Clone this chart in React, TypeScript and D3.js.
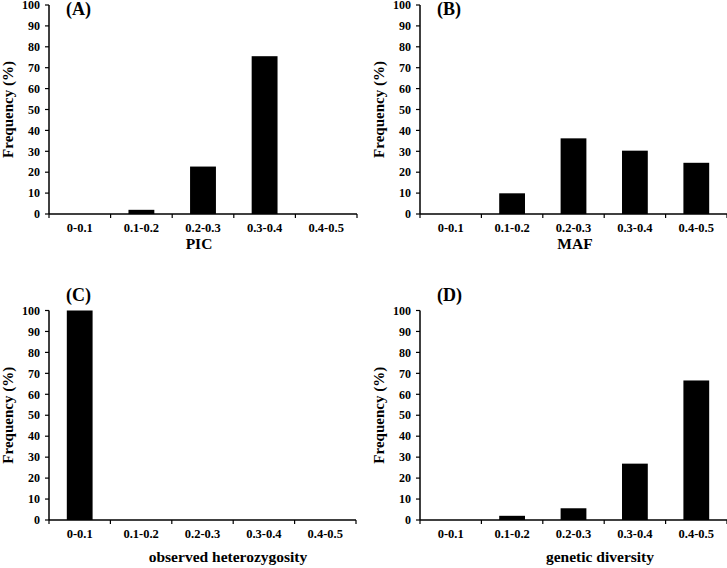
import * as d3 from "d3";
import React, { useEffect, useRef } from "react";

const bins = ["0-0.1", "0.1-0.2", "0.2-0.3", "0.3-0.4", "0.4-0.5"];
const picValues = [0, 2, 22.7, 75.5, 0];
const mafValues = [0, 9.9, 36.2, 30.3, 24.5];
const hoValues = [100, 0, 0, 0, 0];
const gdValues = [0, 2, 5.6, 26.9, 66.6];
const yTicks = [0, 10, 20, 30, 40, 50, 60, 70, 80, 90, 100];

const panels = [
  { tag: "(A)", title: "PIC", values: picValues, x0: 49, x1: 357, top: 5, bottom: 214, tagY: 15, titleX: 199, titleY: 249 },
  { tag: "(B)", title: "MAF", values: mafValues, x0: 420, x1: 727, top: 5, bottom: 214, tagY: 15, titleX: 575, titleY: 249 },
  { tag: "(C)", title: "observed heterozygosity", values: hoValues, x0: 49, x1: 356, top: 310.5, bottom: 520, tagY: 301, titleX: 228, titleY: 562 },
  { tag: "(D)", title: "genetic diversity", values: gdValues, x0: 420, x1: 727, top: 310.5, bottom: 520, tagY: 301, titleX: 600, titleY: 562 },
];

const font = "'Liberation Serif', 'Times New Roman', serif";

function draw(svgEl) {
  const svg = d3.select(svgEl);
  svg.selectAll("*").remove();

  panels.forEach((p) => {
    const x = d3.scaleBand().domain(bins).range([p.x0, p.x1]);
    const y = d3.scaleLinear().domain([0, 100]).range([p.bottom, p.top]);
    const g = svg.append("g").attr("font-family", font).attr("font-weight", "bold");

    // bars
    const bw = x.bandwidth() * 0.42;
    g.selectAll("rect")
      .data(p.values.map((v, i) => ({ v, c: bins[i] })).filter((d) => d.v > 0))
      .join("rect")
      .attr("x", (d) => x(d.c) + x.bandwidth() / 2 - bw / 2)
      .attr("y", (d) => y(d.v))
      .attr("width", bw)
      .attr("height", (d) => y(0) - y(d.v))
      .attr("fill", "#000");

    // y axis
    g.append("line")
      .attr("x1", p.x0).attr("x2", p.x0)
      .attr("y1", y(100)).attr("y2", y(0))
      .attr("stroke", "#000").attr("stroke-width", 1.5);
    yTicks.forEach((t) => {
      g.append("line")
        .attr("x1", p.x0 - 4).attr("x2", p.x0)
        .attr("y1", y(t)).attr("y2", y(t))
        .attr("stroke", "#000").attr("stroke-width", 1.2);
      g.append("text")
        .attr("x", p.x0 - 9).attr("y", y(t))
        .attr("dy", "0.35em")
        .attr("text-anchor", "end")
        .attr("font-size", 12)
        .text(t);
    });

    // x axis
    g.append("line")
      .attr("x1", p.x0).attr("x2", p.x1)
      .attr("y1", y(0)).attr("y2", y(0))
      .attr("stroke", "#000").attr("stroke-width", 1.5);
    const edges = bins.map((b) => x(b)).concat([p.x1]);
    edges.forEach((e) => {
      g.append("line")
        .attr("x1", e).attr("x2", e)
        .attr("y1", y(0)).attr("y2", y(0) + 4)
        .attr("stroke", "#000").attr("stroke-width", 1.2);
    });
    bins.forEach((b) => {
      g.append("text")
        .attr("x", x(b) + x.bandwidth() / 2)
        .attr("y", y(0) + 18)
        .attr("text-anchor", "middle")
        .attr("font-size", 12.5)
        .text(b);
    });

    // labels
    g.append("text")
      .attr("transform", `translate(${p.x0 - 36},${(y(0) + y(100)) / 2}) rotate(-90)`)
      .attr("text-anchor", "middle")
      .attr("font-size", 15)
      .text("Frequency (%)");
    g.append("text")
      .attr("x", p.titleX).attr("y", p.titleY)
      .attr("text-anchor", "middle")
      .attr("font-size", 15.5)
      .text(p.title);
    g.append("text")
      .attr("x", p.x0 + 17).attr("y", p.tagY)
      .attr("font-size", 18)
      .text(p.tag);
  });
}

export default function App() {
  const ref = useRef(null);
  useEffect(() => {
    if (ref.current) draw(ref.current);
  }, []);
  return (
    <svg
      ref={ref}
      width={727}
      height={568}
      style={{ position: "absolute", left: 0, top: 0, background: "#fff" }}
    />
  );
}
